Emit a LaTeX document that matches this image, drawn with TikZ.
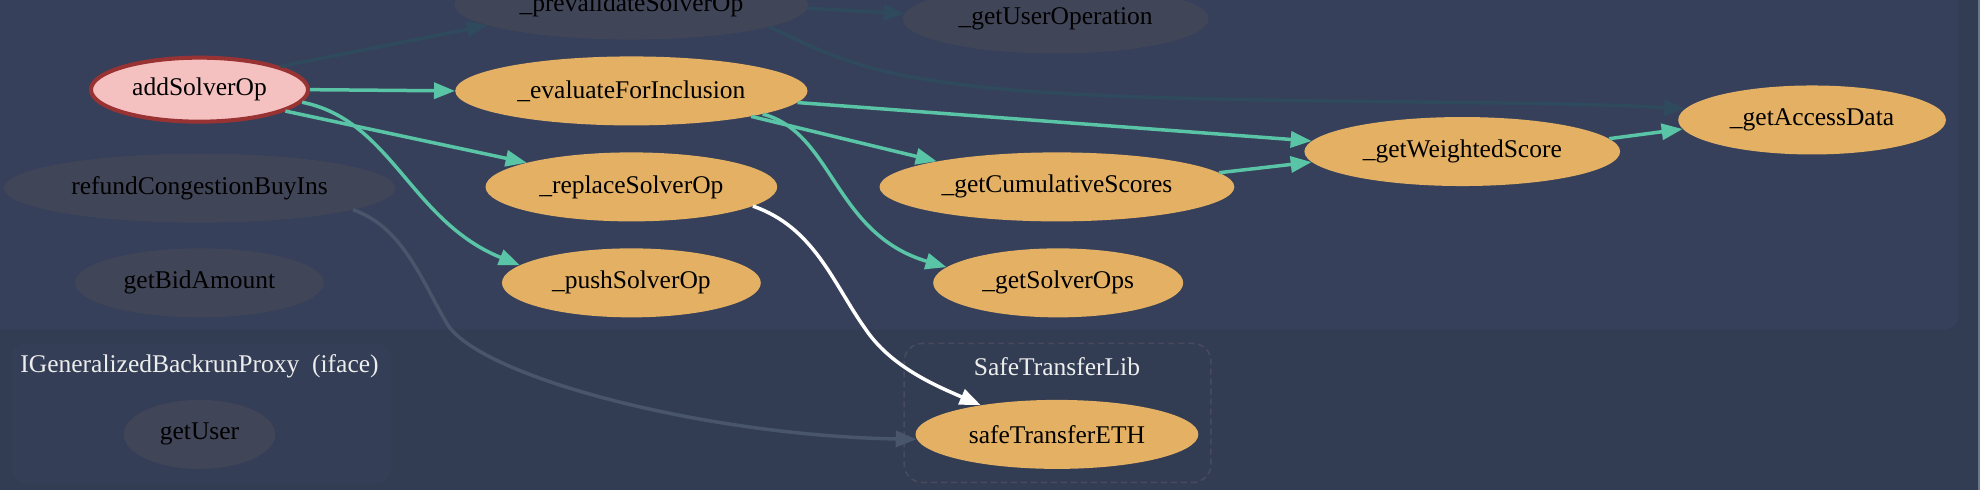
\documentclass[tikz,border=0pt]{standalone}
\usepackage{fontspec}
\setmainfont{Liberation Serif}
\usetikzlibrary{arrows.meta,shapes.geometric}
\definecolor{bgc}{HTML}{323D53}
\definecolor{topc}{HTML}{36405A}
\definecolor{ifc}{HTML}{343E56}
\definecolor{grayn}{HTML}{414558}
\definecolor{orn}{HTML}{E3B064}
\definecolor{pinkn}{HTML}{F5C1C0}
\definecolor{redb}{HTML}{993333}
\definecolor{teal}{HTML}{5AC4A6}
\definecolor{faint}{HTML}{2F4A5C}
\definecolor{refc}{HTML}{48556A}
\definecolor{dashc}{HTML}{4A4A5E}
\definecolor{stripc}{HTML}{6A7889}
\definecolor{labc}{HTML}{EDEDED}
\tikzset{
  wd/.style={minimum width=#1*1.2628pt},
  fn/.style={ellipse, inner sep=0pt, minimum height=69pt, font=\fontsize{25.5}{30}\selectfont, text=black},
  orfn/.style={fn, fill=orn},
  grfn/.style={fn, fill=grayn},
  tip/.style={-{Triangle[length=21pt,width=16pt]}},
  tealedge/.style={tip, draw=teal, line width=3.5pt},
  faintedge/.style={tip, draw=faint, line width=3.5pt},
  refedge/.style={tip, draw=refc, line width=3.5pt},
  whiteedge/.style={tip, draw=white, line width=3.5pt},
  clab/.style={font=\fontsize{25.5}{30}\selectfont, text=labc},
}
\begin{document}
\begin{tikzpicture}[x=1.2628pt,y=1.2628pt]
\useasboundingbox (0,0) rectangle (1568,-388);
\fill[bgc] (0,0) rectangle (1568,-388);
\fill[stripc] (1566.4,0) rectangle (1568,-388);
\fill[topc, rounded corners=14pt] (-30,30) rectangle (1551,-261);
\fill[ifc, rounded corners=14pt] (9,-272) rectangle (309,-383);
\draw[dashc, dashed, line width=1.5pt, dash pattern=on 6pt off 4pt, rounded corners=18pt] (716,-272) rectangle (959,-382);
\node[clab] (iflab) at (158,-290) {IGeneralizedBackrunProxy\ \ (iface)};
\node[clab] (stlab) at (837,-290) {SafeTransferLib};

\node[grfn, wd=280] (prev) at (500,-4) {\_prevalidateSolverOp};
\node[grfn, wd=242] (guo) at (836,-15) {\_getUserOperation};
\node[fn, fill=pinkn, draw=redb, line width=4pt, minimum width=217pt, minimum height=64pt] (add) at (158,-71) {addSolverOp};
\node[orfn, wd=279] (eval) at (500,-72) {\_evaluateForInclusion};
\node[grfn, wd=310] (refund) at (158,-149) {refundCongestionBuyIns};
\node[orfn, wd=231] (repl) at (500,-148) {\_replaceSolverOp};
\node[orfn, wd=281] (cum) at (837,-148) {\_getCumulativeScores};
\node[orfn, wd=250] (ws) at (1158,-120) {\_getWeightedScore};
\node[orfn, wd=212] (acc) at (1435,-95) {\_getAccessData};
\node[grfn, wd=197] (bid) at (158,-224) {getBidAmount};
\node[orfn, wd=205] (push) at (500,-224) {\_pushSolverOp};
\node[orfn, wd=198] (gso) at (838,-224) {\_getSolverOps};
\node[grfn, wd=120] (gu) at (158,-344) {getUser};
\node[orfn, wd=224] (ste) at (837,-344) {safeTransferETH};

% faint edges
\draw[faintedge] (add.16) -- (prev.188);
\draw[faintedge] (prev.-1) -- (guo.178.5);
\draw[faintedge] (prev.-9) .. controls (650,-40) and (680,-58) .. (770,-68) .. controls (900,-84) and (1200,-78) .. (acc.175);
% teal edges
\draw[tealedge] (add.east) -- (eval.west);
\draw[tealedge] (add.-14) -- (repl.167.7);
\draw[tealedge] (add.-7) .. controls (310,-95) and (325,-175) .. (push.171);
\draw[tealedge] (eval.-4.3) -- (ws.176);
\draw[tealedge] (eval.-12) -- (cum.168);
\draw[tealedge] (eval.-10.5) .. controls (660,-105) and (660,-185) .. (gso.172.5);
\draw[tealedge] (cum.5) -- (ws.184.4);
\draw[tealedge] (ws.5.5) -- (acc.184.6);
% others
\draw[whiteedge] (repl.-9.6) .. controls (645,-180) and (660,-225) .. (685,-260) .. controls (705,-290) and (740,-305) .. (ste.159.6);
\draw[refedge] (refund.-8.5) .. controls (320,-180) and (335,-225) .. (355,-258) .. controls (385,-300) and (560,-345) .. (ste.182);
\end{tikzpicture}
\end{document}
